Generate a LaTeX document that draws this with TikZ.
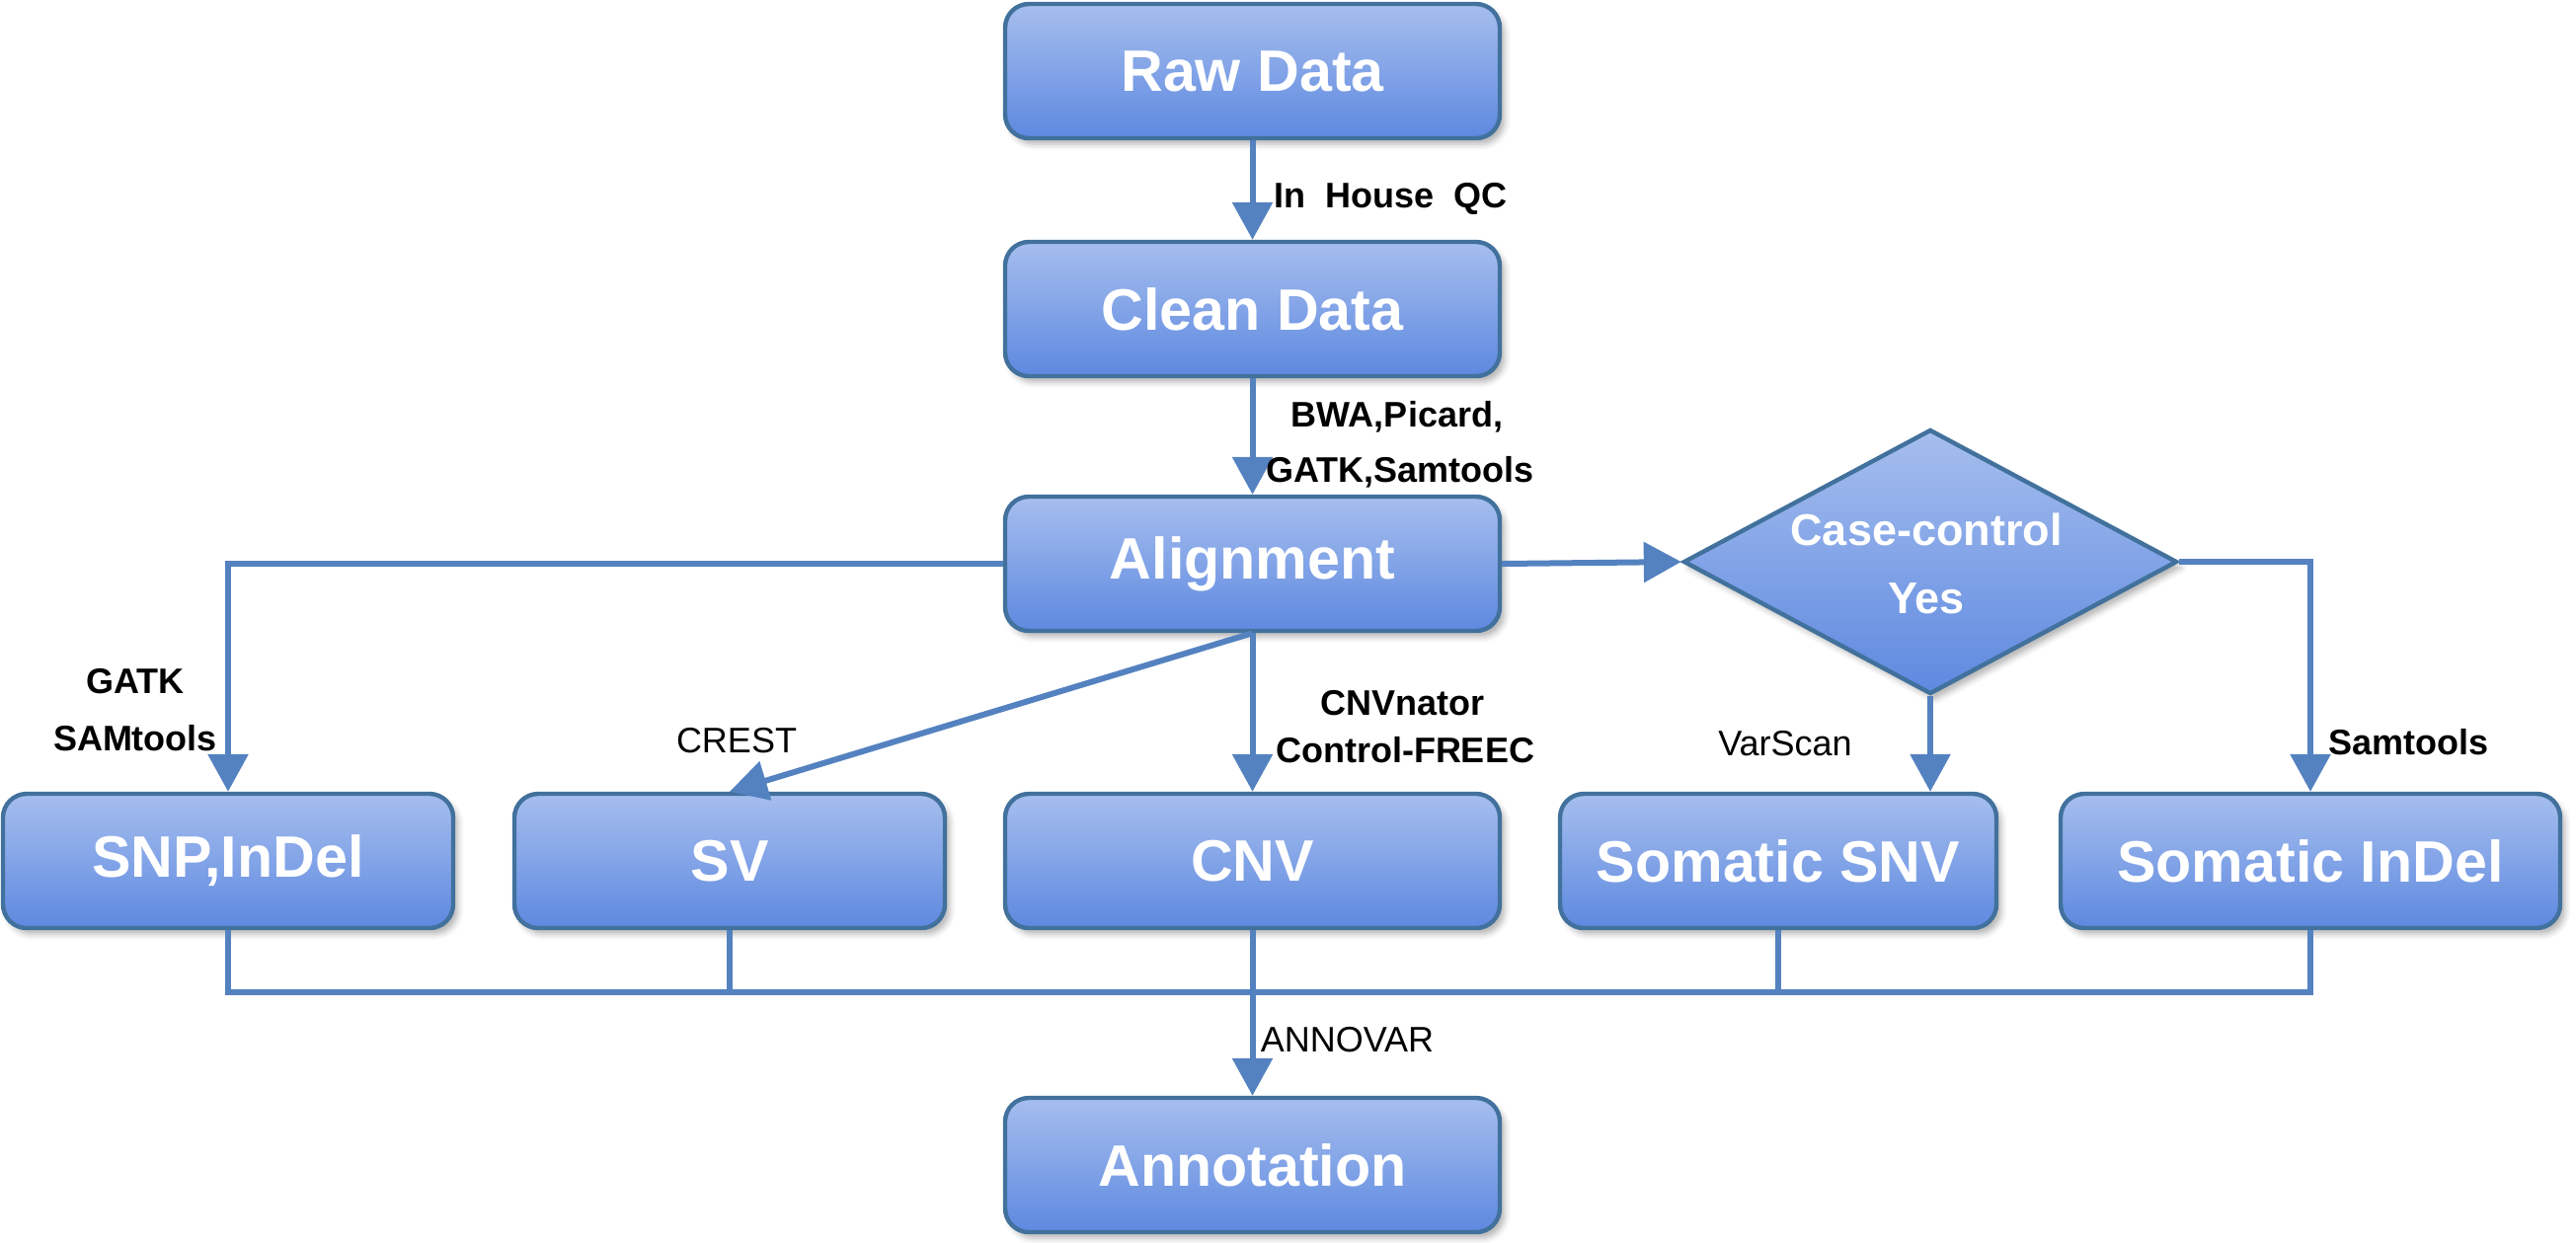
\documentclass[tikz,border=0pt]{standalone}
\usepackage{fontspec}
\setmainfont{Liberation Sans}
\usetikzlibrary{arrows.meta,shapes.geometric,shadows.blur}
\definecolor{gtop}{RGB}{166,190,238}
\definecolor{gbot}{RGB}{94,137,224}
\definecolor{bord}{RGB}{65,113,156}
\definecolor{conncol}{RGB}{84,130,192}
\begin{document}
\begin{tikzpicture}[x=0.25pt,y=-0.25pt,
  shadowed/.style={blur shadow={shadow xshift=1.2pt, shadow yshift=-1.5pt, shadow blur radius=1.5pt, shadow opacity=30}},
  box/.style={shadowed, draw=bord, line width=1.1pt, rounded corners=6pt, top color=gtop, bottom color=gbot,
    minimum width=125.25pt, minimum height=34pt, inner sep=0pt, text=white,
    font=\bfseries\fontsize{14.8pt}{17pt}\selectfont},
  dia/.style={shadowed, diamond, draw=bord, line width=1.1pt, top color=gtop, bottom color=gbot,
    shape aspect=1.87, minimum width=125pt, minimum height=67pt, inner sep=0pt},
  diatext/.style={text=white, align=center, font=\bfseries\fontsize{11.25pt}{17.25pt}\selectfont},
  lab/.style={text=black, inner sep=0pt, font=\bfseries\fontsize{9pt}{11pt}\selectfont},
  labr/.style={text=black, inner sep=0pt, font=\fontsize{9pt}{11pt}\selectfont},
  conn/.style={draw=conncol, line width=1.5pt, -{Triangle[width=10pt,length=9.5pt]}},
  plain/.style={draw=conncol, line width=1.5pt}
]
\useasboundingbox (0,0) rectangle (2609,1258);

% boxes
\node[box] (raw)   at (1268.5,72)  {Raw Data};
\node[box] (clean) at (1268.5,313) {Clean Data};
\node[box] (align) at (1268.5,571)   {Alignment};
\node[box, minimum width=114pt]   (snp)   at (231,872)    {SNP,InDel};
\node[box, minimum width=109pt]   (sv)    at (739,872)    {SV};
\node[box]                        (cnv)   at (1268.5,872) {CNV};
\node[box, minimum width=110.5pt] (snv)   at (1801,872)   {Somatic SNV};
\node[box, minimum width=126.5pt] (indel) at (2340,872)   {Somatic InDel};
\node[box] (ann) at (1268.5,1180) {Annotation};

% decision
\node[dia] (dec) at (1955,569) {};
\node[diatext] (dectext) at (1951,571) {Case-control\\Yes};

% connectors
\draw[conn] (raw.south) -- (clean.north);
\draw[conn] (clean.south) -- (align.north);
\draw[conn] (align.west) -| (snp.north);
\draw[conn] (align.south) -- (sv.north);
\draw[conn] (align.south) -- (cnv.north);
\draw[conn] (align.east) -- (dec.west);
\draw[conn] (dec.east) -| (indel.north);
\draw[conn] (dec.south) -- (dec.south |- snv.north);

% collection bus
\draw[plain] (snp.south) -- ++(0,63) coordinate (busl) -| (indel.south);
\draw[plain] (sv.south) -- (sv.south |- busl);
\draw[plain] (snv.south) -- (snv.south |- busl);
\draw[conn] (cnv.south) -- (ann.north);

% labels
\node[lab, anchor=west] (lqc) at (1290,201) {In\ \ House\ \ QC};
\node[lab] (lbwa)  at (1415,422) {BWA,Picard,};
\node[lab] (lgatk) at (1418,478) {GATK,Samtools};
\node[lab] (lg2)   at (137,690)  {GATK};
\node[lab] (lsam)  at (137,748)  {SAMtools};
\node[labr] (lcrest) at (746,750) {CREST};
\node[lab] (lcnvn) at (1420,712) {CNVnator};
\node[lab] (lfreec) at (1423,760) {Control-FREEC};
\node[labr] (lvar) at (1808,753) {VarScan};
\node[lab] (lsamt) at (2439,752) {Samtools};
\node[labr, anchor=west] (lann) at (1276,1053) {ANNOVAR};
\end{tikzpicture}
\end{document}
